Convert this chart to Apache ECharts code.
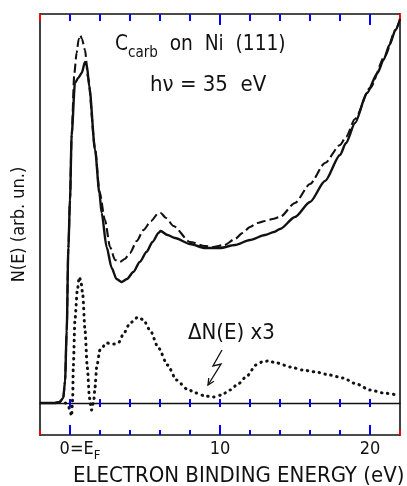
<!DOCTYPE html>
<html><head><meta charset="utf-8">
<script src="https://cdn.jsdelivr.net/npm/echarts@6/dist/echarts.min.js"></script>
<style>html,body{margin:0;padding:0;background:#fff}#c{width:407px;height:486px}</style>
</head><body><div id="c"></div>
<script>
const FONT = "'Liberation Sans Narrow','DejaVu Sans Condensed',sans-serif";
const INK = '#111';

const cleanNi = [[-2,0],[-1,0],[-0.7,1],[-0.45,5],[-0.33,22],[-0.22,72],[-0.11,155],[0,203],[0.11,268],[0.33,320],[0.55,325],[0.78,330],[1.0,341],[1.12,338],[1.29,316],[1.67,253],[1.96,210],[2.11,190],[2.44,156],[2.78,135],[3.1,124],[3.44,121],[3.8,124],[4.22,131],[4.65,141],[5.1,151],[5.5,161],[5.9,170],[6.04,172],[6.5,168],[7.0,165],[8.0,159],[9.0,155],[9.5,155],[10,155],[11,158],[12,163],[13,168],[13.6,171],[14,174],[15,186],[16,201],[17,222],[18,248],[18.4,260],[19,280],[19.8,310],[20.5,330],[20.9,343],[21.3,358],[21.7,373],[22,384]];
const carbNi = [[-2,0],[-1,0],[-0.7,1],[-0.45,5],[-0.33,22],[-0.22,72],[-0.11,155],[0,203],[0.11,268],[0.29,330],[0.44,350],[0.58,364],[0.67,368],[0.8,364],[1.0,353],[1.2,326],[1.67,255],[1.96,212],[2.33,183],[2.67,156],[3.0,143],[3.33,141],[3.65,144],[4.0,150],[4.45,162],[4.9,173],[5.4,182],[5.9,190],[6.05,190],[6.4,185],[6.9,177],[8.0,161],[9.0,157],[9.5,156],[10.3,158],[11,164],[11.5,170],[12,176],[12.5,180],[13,182],[13.5,184],[14,186],[15,200],[16,219],[17,240],[18,258],[18.4,266],[19,284],[20,315],[21,347],[21.7,373],[22,384]];
const diffX3 = [[-0.3,0],[-0.1,-3],[0.0,-8],[0.11,-13],[0.18,5],[0.22,36],[0.33,83],[0.49,113],[0.62,126],[0.72,122],[0.84,110],[1.0,73],[1.15,36],[1.3,5],[1.44,-7],[1.58,2],[1.67,16],[1.78,36],[2.0,53],[2.44,60],[2.9,59],[3.22,60],[3.6,70],[4.0,80],[4.55,86],[4.9,83],[5.33,73],[5.9,55],[6.5,38],[7.1,23],[7.8,14],[8.4,10],[9.0,7],[9.55,6],[10.1,8],[10.67,13],[11.2,19],[11.8,27],[12.4,38],[12.8,41],[13.2,42],[13.8,40],[14.7,36],[15.5,33],[16.4,31],[17.3,28],[18.2,25],[19.1,19],[20,13],[20.9,10],[21.8,8]];

const arrowPath = [[10.13,53],[9.53,37],[10.07,39],[9.2,18]];

const tickValues = [0,2,4,6,8,10,12,14,16,18,20];
const bottomMajorTicks = [0,10,20];
const topMajorTicks = [10,20];
const xTickLabels = {0:'{z|0=E}{s|F}', 10:'{a|10}', 20:'{a|20}'};

const X_MIN = -2, X_MAX = 22, X_STEP = 2, Y_MIN = -32, Y_MAX = 389;

function xAx(o){
  return Object.assign({type:'value', min:X_MIN, max:X_MAX, interval:X_STEP, splitLine:{show:false},
    axisLabel:{show:false}, axisTick:{show:false},
    axisLine:{show:false, onZero:false, lineStyle:{color:INK, width:1.6}}}, o);
}
const chart = echarts.init(document.getElementById('c'));
chart.setOption({
  animation:false,
  grid:{left:40, right:7, top:14, bottom:51},
  xAxis:[
    xAx({position:'bottom', axisLine:{show:true, onZero:false, lineStyle:{color:INK,width:1.6}},
      axisTick:{show:true, inside:true, length:5, lineStyle:{color:'red',width:2}},
      axisLabel:{show:true, margin:9, color:INK, fontFamily:FONT, fontSize:18, lineHeight:18,
        showMinLabel:true, showMaxLabel:true, hideOverlap:false,
        formatter:v => xTickLabels[v] || '',
        rich:{a:{fontFamily:FONT, fontSize:18, lineHeight:18, padding:[0,0,4,0], verticalAlign:'bottom', color:INK},
              z:{fontFamily:FONT, fontSize:18, lineHeight:18, padding:[0,0,4,20], verticalAlign:'bottom', color:INK},
              s:{fontFamily:FONT, fontSize:13, lineHeight:14, verticalAlign:'bottom', color:INK}}}}),
    xAx({position:'top', axisLine:{show:true, onZero:false, lineStyle:{color:INK,width:1.6}},
      axisTick:{show:true, inside:true, length:7, lineStyle:{color:'red',width:2}}}),
    xAx({position:'bottom', axisLine:{show:true, onZero:true, onZeroAxisIndex:0, lineStyle:{color:INK,width:1.4}}})
  ],
  yAxis:[
    {type:'value', min:Y_MIN, max:Y_MAX, position:'left', splitLine:{show:false}, axisTick:{show:false}, axisLabel:{show:false},
     axisLine:{show:true, onZero:false, lineStyle:{color:INK,width:1.6}},
     name:'N(E) (arb. un.)', nameLocation:'middle', nameGap:12, nameRotate:90,
     nameTextStyle:{color:INK, fontFamily:FONT, fontSize:18}},
    {type:'value', min:Y_MIN, max:Y_MAX, position:'right', splitLine:{show:false}, axisTick:{show:false}, axisLabel:{show:false},
     axisLine:{show:true, onZero:false, lineStyle:{color:INK,width:1.6}}}
  ],
  series:[
    {type:'line', name:'clean', data:cleanNi, showSymbol:false, smooth:0.25, smoothMonotone:'x',
     lineStyle:{color:INK, width:2.4}, z:3},
    {type:'line', name:'carb', data:carbNi, showSymbol:false, smooth:0.25, smoothMonotone:'x',
     lineStyle:{color:INK, width:2.1, type:[9,4]}, z:4},
    {type:'line', name:'diff', data:diffX3, showSymbol:false, smooth:0.25, smoothMonotone:'x',
     lineStyle:{color:INK, width:3, type:[0.5,5.5], cap:'round'}, z:5},
    {type:'custom', name:'ticks', coordinateSystem:'cartesian2d', silent:true, clip:false, z:7, data:[[0,0]],
     renderItem:(params, api) => {
       const children = [];
       const seg = (x1,y1,x2,y2) => children.push({type:'polyline', shape:{points:[[x1,y1],[x2,y2]]},
         style:{stroke:'blue', lineWidth:2, fill:null}});
       const yb = api.coord([0, Y_MIN])[1], yt = api.coord([0, Y_MAX])[1], y0 = api.coord([0, 0])[1];
       tickValues.forEach(v => {
         const x = api.coord([v, 0])[0];
         seg(x, yb, x, yb - (bottomMajorTicks.indexOf(v) >= 0 ? 10 : 5));
         seg(x, yt, x, yt + (topMajorTicks.indexOf(v) >= 0 ? 11 : 7));
         seg(x, y0 - 4, x, y0 + 4);
       });
       return {type:'group', children:children};
     }},
    {type:'custom', name:'arrow', coordinateSystem:'cartesian2d', silent:true, clip:false, z:6, data:[arrowPath[0]],
     renderItem:(params, api) => {
       const pts = arrowPath.map(p => api.coord(p));
       const tip = pts[pts.length-1], prev = pts[pts.length-2];
       const ang = Math.atan2(tip[1]-prev[1], tip[0]-prev[0]);
       const L = 7, A = 0.45;
       const head = [[tip[0]-L*Math.cos(ang-A), tip[1]-L*Math.sin(ang-A)], tip,
                     [tip[0]-L*Math.cos(ang+A), tip[1]-L*Math.sin(ang+A)]];
       return {type:'group', children:[
         {type:'polyline', shape:{points:pts}, style:{stroke:INK, lineWidth:1.3, fill:null}},
         {type:'polyline', shape:{points:head}, style:{stroke:INK, lineWidth:1.3, fill:null}}]};
     }}
  ],
  graphic:[
    {type:'text', x:115, y:39, scaleX:0.94, style:{text:'{m|C}{s|carb}{m|  on  Ni  (111)}', fill:INK,
      rich:{m:{fontFamily:FONT, fontSize:22, lineHeight:22, padding:[0,0,6,0], verticalAlign:'bottom', fill:INK},
            s:{fontFamily:FONT, fontSize:16, lineHeight:16, verticalAlign:'bottom', fill:INK}}}},
    {type:'text', x:150, y:74, style:{text:'hν = 35  eV', fontFamily:FONT, fontSize:22, fill:INK}},
    {type:'text', x:188, y:322, style:{text:'ΔN(E) x3', fontFamily:FONT, fontSize:22, fill:INK}},
    {type:'text', x:73, y:465, style:{text:'ELECTRON BINDING ENERGY (eV)', fontFamily:FONT, fontSize:22, fill:INK}}
  ]
});
</script></body></html>
